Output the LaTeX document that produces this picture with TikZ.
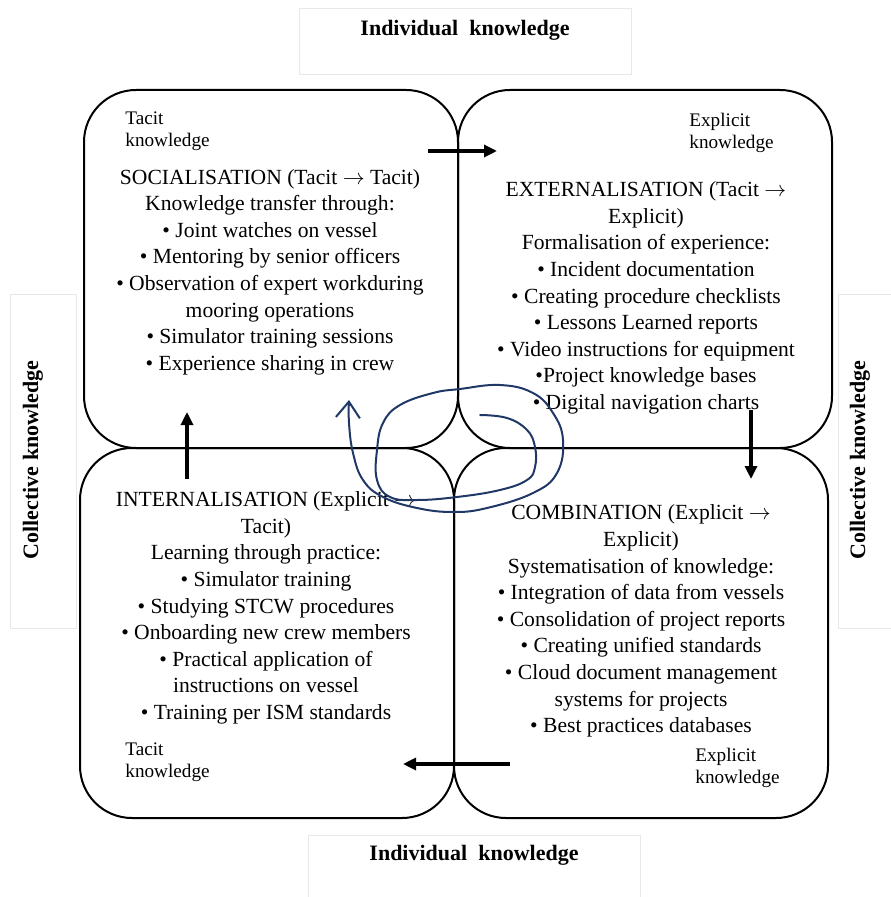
\documentclass[tikz,border=0pt]{standalone}
\usepackage{fontspec}
\setmainfont{Liberation Serif}
\usetikzlibrary{positioning,arrows.meta}
\definecolor{ink}{RGB}{32,56,102}
\definecolor{framegray}{RGB}{232,232,232}
\newcommand{\becomes}{$\rightarrow$}

\begin{document}
\begin{tikzpicture}[x=0.5pt, y=-0.5pt,
    quad/.style = {draw, line width=1pt, rounded corners=26pt, minimum width=187pt, minimum height=179pt, inner sep=0pt, outer sep=0pt},
    body/.style = {align=center, inner sep=0pt, font=\fontsize{10.8}{13.3}\selectfont},
    tag/.style = {align=left, anchor=north west, inner sep=0pt, font=\fontsize{9.6}{11}\selectfont},
    axis/.style = {inner sep=0pt, font=\fontsize{11}{13}\selectfont\bfseries},
    frame/.style = {draw=framegray, line width=0.5pt},
    flow/.style = {line width=1.6pt, -{Triangle[length=6.5pt,width=6pt]}},
    spiral/.style = {draw=ink, line width=1pt, line cap=round, line join=round, -{Straight Barb[length=8pt,width=12pt]}}]
    \useasboundingbox (0,0) rectangle (890,897);

    \draw[frame] (299,9) rectangle (631,75);
    \draw[frame] (308,835) rectangle (640,905);
    \draw[frame] (10,295) rectangle (76,628);
    \draw[frame] (838,295) rectangle (900,628);
    \node[axis] (indtop) at (465,30) {Individual\ \ knowledge};
    \node[axis] (indbot) at (474,855) {Individual\ \ knowledge};
    \node[axis, rotate=90] (colleft) at (33,460) {Collective knowledge};
    \node[axis, rotate=90] (colright) at (860,460) {Collective knowledge};

    \node[quad] (soc) at (271,269) {};
    \node[quad] (ext) [right=0pt of soc] {};
    \node[quad, minimum height=185pt] (int) [below=0pt of soc, xshift=-2pt] {};
    \node[quad, minimum height=185pt] (comb) [right=0pt of int] {};

    \node[tag] (soctag) at (125,111) {Tacit\\knowledge};
    \node[tag] (exttag) at (689,113) {Explicit\\knowledge};
    \node[tag] (inttag) at (125,742) {Tacit\\knowledge};
    \node[tag] (combtag) at (695,748) {Explicit\\knowledge};

    \node[body] (soctext) at (270,272) {SOCIALISATION (Tacit \becomes{} Tacit)\\ Knowledge transfer through:\\ • Joint watches on vessel\\ • Mentoring by senior officers\\ • Observation of expert workduring\\ mooring operations\\ • Simulator training sessions\\ • Experience sharing in crew};
    \node[body] (exttext) at (646,298) {EXTERNALISATION (Tacit \becomes\\ Explicit)\\ Formalisation of experience:\\ • Incident documentation\\ • Creating procedure checklists\\ • Lessons Learned reports\\ • Video instructions for equipment\\ •Project knowledge bases\\ • Digital navigation charts};
    \node[body] (inttext) at (266,608) {INTERNALISATION (Explicit \becomes\\ Tacit)\\ Learning through practice:\\ • Simulator training\\ • Studying STCW procedures\\ • Onboarding new crew members\\ • Practical application of\\ instructions on vessel\\ • Training per ISM standards};
    \node[body] (combtext) at (641,621) {COMBINATION (Explicit \becomes\\ Explicit)\\ Systematisation of knowledge:\\ • Integration of data from vessels\\ • Consolidation of project reports\\ • Creating unified standards\\ • Cloud document management\\ systems for projects\\ • Best practices databases};

    \coordinate (socout) at (428,151);
    \coordinate (extin) at (497,151);
    \coordinate (extout) at (751,410);
    \coordinate (combin) at (751,479);
    \coordinate (combout) at (510,764);
    \coordinate (intin) at (403,764);
    \coordinate (intout) at (187,479);
    \coordinate (socin) at (187,412);
    \draw[flow] (socout) -- (extin);
    \draw[flow] (extout) -- (combin);
    \draw[flow] (combout) -- (intin);
    \draw[flow] (intout) -- (socin);

    \draw[spiral] plot[smooth, tension=0.7] coordinates {(480,415) (507,418) (527,430) (535,447) (535,467) (527,480) (500,490) (457,497) (417,500) (390,497) (377,480) (377,450) (383,423) (400,405) (433,393) (460,389) (500,385) (533,393) (553,413) (563,440) (557,473) (533,493) (487,508) (453,512) (417,508) (383,497) (363,480) (353,453) (349,423) (349,400)};
\end{tikzpicture}
\end{document}
